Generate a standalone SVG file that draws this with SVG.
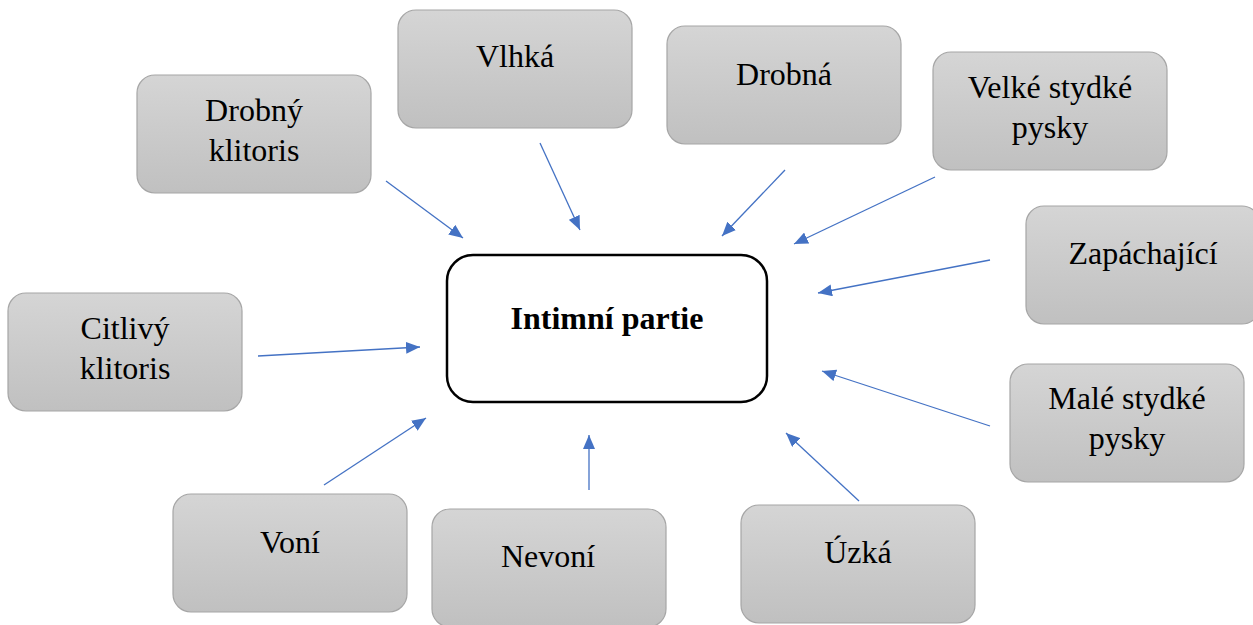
<svg xmlns="http://www.w3.org/2000/svg" width="1253" height="625" viewBox="0 0 1253 625">
<defs>
<linearGradient id="g" x1="0" y1="0" x2="0" y2="1">
<stop offset="0" stop-color="#d5d5d5"/>
<stop offset="1" stop-color="#c0c0c0"/>
</linearGradient>
<marker id="ah" viewBox="0 0 14 12" refX="14" refY="6" markerWidth="14" markerHeight="12" markerUnits="userSpaceOnUse" orient="auto">
<path d="M0,0 L14,6 L0,12 Z" fill="#4472c4"/>
</marker>
</defs>
<style>
.box{fill:url(#g);stroke:#a6a6a6;stroke-width:1.2}
.t{font-family:"Liberation Serif","Times New Roman",serif;font-size:32px;fill:#000;text-anchor:middle}
.c line{stroke:#4472c4;stroke-width:1.3;marker-end:url(#ah)}
</style>
<rect width="1253" height="625" fill="#fff"/>
<g class="c" id="connectors">
<line x1="386" y1="181" x2="463" y2="238"/>
<line x1="540" y1="143" x2="580" y2="230"/>
<line x1="785" y1="170" x2="722" y2="236"/>
<line x1="935" y1="177" x2="794" y2="244"/>
<line x1="990" y1="260" x2="818" y2="293"/>
<line x1="258" y1="356" x2="420" y2="347"/>
<line x1="990" y1="426" x2="822" y2="371"/>
<line x1="324" y1="485" x2="426" y2="418"/>
<line x1="589" y1="490" x2="589" y2="435"/>
<line x1="859" y1="501" x2="786" y2="433"/>
</g>
<g id="center">
<rect x="447" y="255" width="320" height="147" rx="26" fill="#fff" stroke="#000" stroke-width="2.5"/>
<text class="t" x="607" y="329" font-weight="bold" font-size="31">Intimní partie</text>
</g>
<g id="drobny-klitoris">
<rect class="box" x="137" y="75" width="234" height="118" rx="18"/>
<text class="t" x="254" y="121">Drobný</text>
<text class="t" x="254" y="161">klitoris</text>
</g>
<g id="vlhka">
<rect class="box" x="398" y="10" width="234" height="118" rx="18"/>
<text class="t" x="515" y="67">Vlhká</text>
</g>
<g id="drobna">
<rect class="box" x="667" y="26" width="234" height="118" rx="18"/>
<text class="t" x="784" y="85">Drobná</text>
</g>
<g id="velke">
<rect class="box" x="933" y="52" width="234" height="118" rx="18"/>
<text class="t" x="1050" y="98">Velké stydké</text>
<text class="t" x="1050" y="138">pysky</text>
</g>
<g id="zapachajici">
<rect class="box" x="1026" y="206" width="234" height="118" rx="18"/>
<text class="t" x="1143" y="264">Zapáchající</text>
</g>
<g id="citlivy">
<rect class="box" x="8" y="293" width="234" height="118" rx="18"/>
<text class="t" x="125" y="339">Citlivý</text>
<text class="t" x="125" y="379">klitoris</text>
</g>
<g id="male">
<rect class="box" x="1010" y="364" width="234" height="118" rx="18"/>
<text class="t" x="1127" y="409">Malé stydké</text>
<text class="t" x="1127" y="449">pysky</text>
</g>
<g id="voni">
<rect class="box" x="173" y="494" width="234" height="118" rx="18"/>
<text class="t" x="290" y="553">Voní</text>
</g>
<g id="nevoni">
<rect class="box" x="432" y="509" width="234" height="118" rx="18"/>
<text class="t" x="548" y="567">Nevoní</text>
</g>
<g id="uzka">
<rect class="box" x="741" y="505" width="234" height="118" rx="18"/>
<text class="t" x="858" y="563">Úzká</text>
</g>
</svg>
